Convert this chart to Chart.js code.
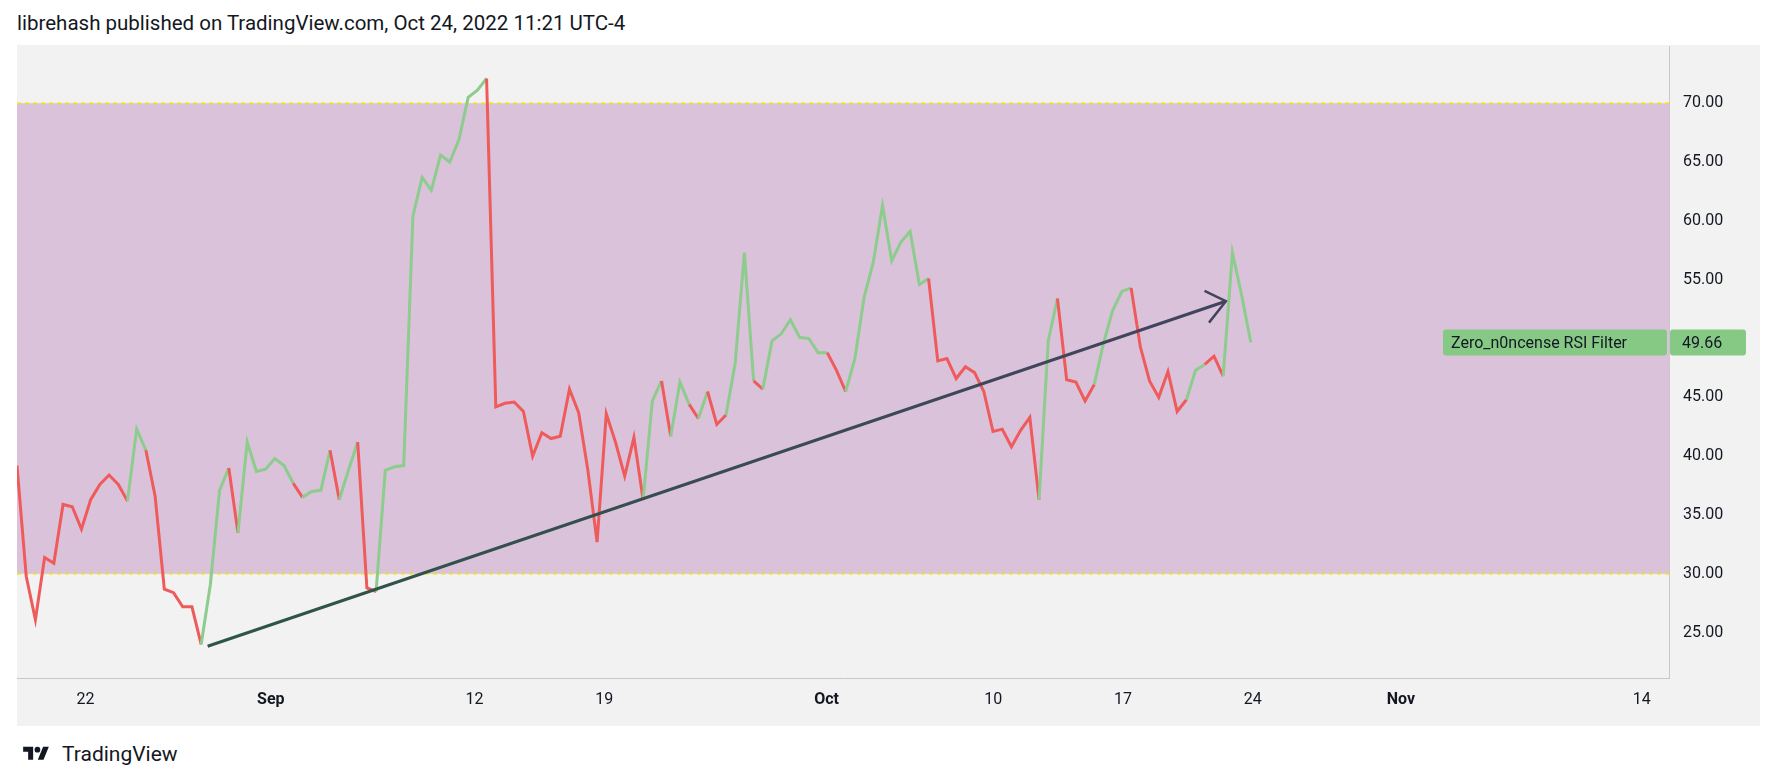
<!DOCTYPE html>
<html><head><meta charset="utf-8">
<script src="https://cdn.jsdelivr.net/npm/chart.js@4"></script>
<style>
body{margin:0;background:#fff;width:1769px;height:783px;overflow:hidden;font-family:Roboto,sans-serif;position:relative}
#title{position:absolute;left:17px;top:11px;font-size:20.5px;color:#131722}
#wrap{position:absolute;left:17px;top:45px;width:1743px;height:681px;background:#f2f2f2}
#c{position:absolute;left:17px;top:23px}
#brand{position:absolute;left:18px;top:742px;font-size:21px;color:#131722;display:flex;align-items:center;gap:8px}
</style></head><body>
<div id="title">librehash published on TradingView.com, Oct 24, 2022 11:21 UTC-4</div>
<div id="wrap"></div>
<canvas id="c" width="1743" height="703"></canvas>
<div id="brand"><svg width="36" height="20" viewBox="0 0 36 28"><path d="M14 22H7V11H0V4h14v18z" fill="#131722"/><circle cx="20" cy="8" r="4" fill="#131722"/><path d="M28 4h8l-7.5 18h-8z" fill="#131722"/></svg><span>TradingView</span></div>
<script>
const rsiValues = [39.2,29.8,26.1,31.4,30.9,35.9,35.7,33.8,36.3,37.6,
38.4,37.6,36.2,42.3,40.5,36.6,28.7,28.4,27.2,27.2,
24.0,29.1,37.1,39.0,33.5,41.2,38.7,38.9,39.8,39.2,
37.7,36.5,37.0,37.1,40.5,36.3,38.8,41.2,28.8,28.5,
38.8,39.1,39.2,60.4,63.7,62.6,65.6,65.0,66.9,70.5,
71.1,72.1,44.2,44.5,44.6,43.8,40.0,42.0,41.5,41.7,
45.7,43.7,38.8,32.7,43.6,41.2,38.3,41.6,36.3,44.7,
46.4,41.7,46.3,44.4,43.2,45.5,42.7,43.5,47.9,57.3,
46.4,45.7,49.8,50.4,51.6,50.1,50.0,48.8,48.8,47.3,
45.5,48.3,53.5,56.5,61.3,56.6,58.2,59.1,54.6,55.1,
48.1,48.3,46.6,47.6,47.1,45.5,42.1,42.3,40.8,42.2,
43.3,36.3,49.8,53.4,46.5,46.3,44.7,46.1,49.6,52.4,
54.0,54.3,49.3,46.4,45.0,47.2,43.8,44.8,47.3,47.8,
48.5,46.8,57.3,53.7,49.66];
const signal = ("RRRRRRRRRRRRR"+"GG"+"RRRRRR"+"GGG"+"R"+"GGGGGG"+"R"+"GGG"+"R"+"GG"+"RR"+"GGGGGGGGGGGG"+
 "RRRRRRRRRRRRRRRRR"+"GG"+"R"+"GG"+"R"+"G"+"RR"+"GGG"+"R"+"GGGGGGG"+"RR"+"GGGGGGGGG"+
 "RRRRRRRRRRRR"+"GG"+"RRRR"+"GGGG"+"RRRRRR"+"GG"+"RR"+"GGG").split('');
const startDay = -13.7, stepDay = 0.497; // days relative to Sep 1, 12h bars
const trendLine = [{x:-3.41,y:23.85},{x:51.55,y:53.17}];
const arrowHead = [{x:50.4,y:54.04},{x:51.55,y:53.17},{x:50.64,y:51.35}];
const xTickDays = [-10,0,11,18,30,39,46,53,61,74];
const xTickLabels = ['22','Sep','12','19','Oct','10','17','24','Nov','14'];
const yTicks = [25,30,35,40,45,50,55,60,65,70];
const bandLow = 30, bandHigh = 70;
const lastLabel = 'Zero_n0ncense RSI Filter';

const GREEN='#8ccc8c', RED='#ef5b5b';
const pts = rsiValues.map((v,i)=>({x:startDay+i*stepDay,y:v}));

const bandPlugin={id:'band',beforeDatasetsDraw(ch){
  const {ctx,chartArea:a,scales:{y}}=ch;
  ctx.save();
  ctx.fillStyle='#f2f2f2';ctx.fillRect(a.left,a.top,a.right-a.left,a.bottom-a.top);
  const t=y.getPixelForValue(bandHigh),b=y.getPixelForValue(bandLow);
  ctx.fillStyle='#dbc2db';ctx.fillRect(a.left,t,a.right-a.left,b-t);
  ctx.strokeStyle='#f5e600';ctx.lineWidth=1.5;ctx.setLineDash([4,4]);
  [t,b].forEach(p=>{ctx.beginPath();ctx.moveTo(a.left,p);ctx.lineTo(a.right,p);ctx.stroke();});
  ctx.restore();
},afterDraw(ch){
  const {ctx,chartArea:a,scales:{y}}=ch;
  const v=rsiValues[rsiValues.length-1],py=y.getPixelForValue(v);
  ctx.save();
  ctx.fillStyle='#85c985';
  ctx.beginPath();ctx.roundRect(a.right-226,py-13,224,26,3);ctx.fill();
  ctx.beginPath();ctx.roundRect(a.right+1,py-13,76,26,3);ctx.fill();
  ctx.fillStyle='#131722';ctx.font='16px Roboto';ctx.textBaseline='middle';
  ctx.textAlign='left';ctx.fillText(lastLabel,a.right-218,py+1);
  ctx.fillText(v.toFixed(2),a.right+13,py+1);
  ctx.restore();
}};

new Chart(document.getElementById('c'),{
 type:'scatter',
 data:{datasets:[
  {data:pts,showLine:true,pointRadius:0,borderWidth:3,borderColor:GREEN,
   segment:{borderColor:c=>signal[c.p1DataIndex]==='G'?GREEN:RED},order:2},
  {data:trendLine,showLine:true,pointRadius:0,borderWidth:3,order:1,
   borderColor:c=>{const ch=c.chart;if(!ch.chartArea)return '#3c3c55';
     const g=ch.ctx.createLinearGradient(ch.scales.x.getPixelForValue(trendLine[0].x),0,ch.scales.x.getPixelForValue(trendLine[1].x),0);
     g.addColorStop(0,'#2e5547');g.addColorStop(1,'#43435f');return g;}},
  {data:arrowHead,showLine:true,pointRadius:0,borderWidth:2.5,borderColor:'#43435f',order:1}
 ]},
 options:{responsive:false,animation:false,layout:{padding:0},
  plugins:{legend:{display:false},tooltip:{enabled:false}},
  scales:{
   x:{type:'linear',min:-13.7,max:75.47,
     afterBuildTicks:s=>{s.ticks=xTickDays.map(v=>({value:v}));},
     afterFit:s=>{s.height=48;},
     grid:{display:false,drawTicks:false},border:{color:'#c8c8c8'},
     ticks:{padding:12,color:'#131722',autoSkip:false,maxRotation:0,
       callback:v=>xTickLabels[xTickDays.indexOf(v)],
       font:c=>({family:'Roboto',size:16,weight:['Sep','Oct','Nov'].includes(xTickLabels[xTickDays.indexOf(c.tick&&c.tick.value)])?'bold':'normal'})}},
   y:{position:'right',min:21.15,max:74.81,
     afterBuildTicks:s=>{s.ticks=yTicks.map(v=>({value:v}));},
     afterFit:s=>{s.width=91;},
     grid:{display:false,drawTicks:false},border:{color:'#c8c8c8'},
     ticks:{padding:14,color:'#131722',font:{family:'Roboto',size:16},callback:v=>v.toFixed(2)}}
  }},
 plugins:[bandPlugin]
});
</script></body></html>
